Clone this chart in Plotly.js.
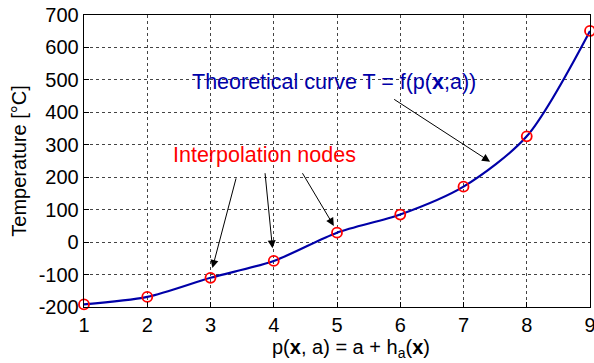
<!DOCTYPE html>
<html>
<head>
<meta charset="utf-8">
<script src="https://cdn.plot.ly/plotly-3.0.1.min.js"></script>
<style>html,body{margin:0;padding:0;background:#fff;}#chart{width:594px;height:363px;}</style>
</head>
<body>
<div id="chart"></div>
<script>
// Data
const nodeX = [1, 2, 3, 4, 5, 6, 7, 8, 9];
const nodeT = [-192, -169, -110, -58, 29, 85, 171, 326, 651];
const xTicks = [1, 2, 3, 4, 5, 6, 7, 8, 9];
const yTicks = [-200, -100, 0, 100, 200, 300, 400, 500, 600, 700];

// Annotation anchors (data units): [headX, headY, tailX, tailY]
const nodeArrows = [
  [3.03, -80, 3.41, 201],
  [3.98, -19, 3.86, 217],
  [4.95, 50, 4.44, 217]
];
const curveArrow = [7.42, 248, 5.88, 443];

const FONT = 'Liberation Sans, Arial, sans-serif';

const traces = [
  {
    x: nodeX, y: nodeT, type: 'scatter', mode: 'lines',
    line: {color: '#0000A8', width: 2.2, shape: 'spline', smoothing: 0.8},
    hoverinfo: 'skip', showlegend: false
  },
  {
    x: nodeX, y: nodeT, type: 'scatter', mode: 'markers',
    marker: {symbol: 'circle-open', size: 10, color: '#FF0000', line: {width: 1.8, color: '#FF0000'}},
    cliponaxis: false, showlegend: false
  }
];

const annotations = [];
nodeArrows.forEach(a => {
  annotations.push({
    x: a[0], y: a[1], ax: a[2], ay: a[3], xref: 'x', yref: 'y', axref: 'x', ayref: 'y',
    text: '', showarrow: true, arrowhead: 2, arrowsize: 1.6, arrowwidth: 1, arrowcolor: '#000'
  });
});
annotations.push({
  x: curveArrow[0], y: curveArrow[1], ax: curveArrow[2], ay: curveArrow[3],
  xref: 'x', yref: 'y', axref: 'x', ayref: 'y',
  text: '', showarrow: true, arrowhead: 2, arrowsize: 1.6, arrowwidth: 1, arrowcolor: '#000'
});
annotations.push({
  x: 4.95, y: 495, xref: 'x', yref: 'y', showarrow: false,
  text: 'Theoretical curve T = f(p(<b>x</b>;a))',
  font: {family: FONT, size: 21.5, color: '#0000A8'}, xanchor: 'center', yanchor: 'middle'
});
annotations.push({
  x: 3.85, y: 269, xref: 'x', yref: 'y', showarrow: false,
  text: 'Interpolation nodes',
  font: {family: FONT, size: 21.5, color: '#FF0000'}, xanchor: 'center', yanchor: 'middle'
});
// x-axis title
annotations.push({
  x: 0.528, y: -0.093, xref: 'paper', yref: 'paper', showarrow: false,
  text: 'p(<b>x</b>, a) = a + h<sub>a</sub>(<b>x</b>)',
  font: {family: FONT, size: 20, color: '#000'}, xanchor: 'center', yanchor: 'top'
});

const grid = {gridcolor: '#444', griddash: '3px,3px', gridwidth: 1};

const layout = {
  width: 594, height: 363,
  margin: {l: 84, r: 4, t: 15, b: 56},
  paper_bgcolor: '#fff', plot_bgcolor: '#fff',
  font: {family: FONT, size: 20, color: '#000'},
  showlegend: false,
  xaxis: Object.assign({
    range: [1, 9], tickvals: xTicks, ticktext: xTicks.map(String),
    showline: true, linecolor: '#000', linewidth: 1.3, mirror: true,
    ticks: 'inside', ticklen: 5, tickcolor: '#000', zeroline: false,
    ticklabeloverflow: 'allow',
    tickfont: {family: FONT, size: 20}
  }, grid),
  yaxis: Object.assign({
    range: [-200, 700], tickvals: yTicks, ticktext: yTicks.map(String),
    showline: true, linecolor: '#000', linewidth: 1.3, mirror: true,
    ticks: 'inside', ticklen: 5, tickcolor: '#000', zeroline: false,
    ticklabeloverflow: 'allow',
    tickfont: {family: FONT, size: 20},
    title: {text: 'Temperature [°C]', font: {family: FONT, size: 20}, standoff: 6}
  }, grid),
  annotations: annotations
};

Plotly.newPlot('chart', traces, layout, {displayModeBar: false, staticPlot: true});
</script>
</body>
</html>
